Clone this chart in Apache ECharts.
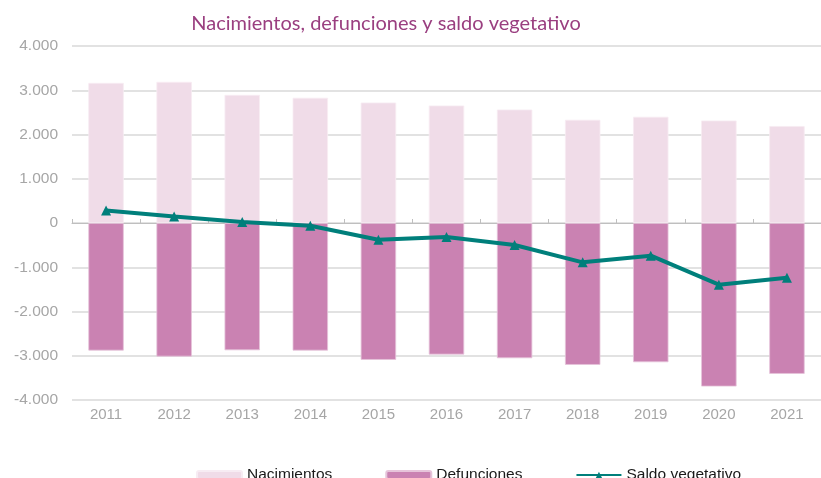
<!DOCTYPE html>
<html><head><meta charset="utf-8">
<script src="https://cdn.jsdelivr.net/npm/echarts@6/dist/echarts.min.js"></script>
<style>html,body{margin:0;padding:0;background:#fff}#c{width:821px;height:478px}</style>
</head><body><div id="c"></div>
<script>
const categories = ['2011','2012','2013','2014','2015','2016','2017','2018','2019','2020','2021'];
const nacimientos = [3167, 3190, 2896, 2829, 2722, 2655, 2564, 2332, 2400, 2316, 2190];
const defunciones = [-2883, -3018, -2876, -2883, -3093, -2973, -3056, -3206, -3146, -3695, -3409];
const saldo = [284, 149, 23, -61, -377, -316, -497, -889, -738, -1393, -1235];
const yTicks = [-4000, 4000, 1000];

const chart = echarts.init(document.getElementById('c'));
chart.setOption({
  animation: false,
  title: {
    text: 'Nacimientos, defunciones y saldo vegetativo',
    left: 381, top: 9, textAlign: 'center',
    textStyle: {color: '#9a3f80', fontFamily: 'Lato', fontWeight: 'normal', fontSize: 20}
  },
  legend: {
    left: 191, top: 462, itemWidth: 45, itemHeight: 8, itemGap: 53,
    textStyle: {color: '#1a1a1a', fontFamily: 'Liberation Sans', fontSize: 15.5},
    data: ['Nacimientos', 'Defunciones', 'Saldo vegetativo']
  },
  grid: {left: 72, right: -6, top: 46, bottom: 78},
  xAxis: [{
    type: 'category', data: categories, position: 'bottom',
    axisLine: {show: false, onZero: false}, axisTick: {show: false},
    axisLabel: {color: '#a6a6a6', fontFamily: 'Liberation Sans', fontSize: 15, margin: 7}
  }, {
    type: 'category', data: categories, position: 'bottom',
    axisLine: {show: true, onZero: true, lineStyle: {color: '#bfbfbf', width: 1}},
    axisTick: {show: true, inside: true, length: 4, lineStyle: {color: '#bfbfbf'}},
    axisLabel: {show: false}
  }],
  yAxis: {
    type: 'value', min: yTicks[0], max: yTicks[1], interval: yTicks[2],
    axisLine: {show: false}, axisTick: {show: false},
    splitLine: {lineStyle: {color: '#d9d9d9', width: 1.5}},
    axisLabel: {color: '#a6a6a6', fontFamily: 'Liberation Sans', fontSize: 15.5, margin: 14,
      formatter: v => (v < 0 ? '-' : '') + Math.abs(v).toString().replace(/\B(?=(\d{3})+(?!\d))/g, '.')}
  },
  series: [
    {name: 'Nacimientos', type: 'bar', stack: 'a', data: nacimientos, barWidth: '52%',
      itemStyle: {color: '#f0dce8', borderColor: '#f7ecf3', borderWidth: 0.8}},
    {name: 'Defunciones', type: 'bar', stack: 'a', data: defunciones, barWidth: '52%',
      itemStyle: {color: '#ca82b2', borderColor: '#e6c4da', borderWidth: 0.8}},
    {name: 'Saldo vegetativo', type: 'line', data: saldo, z: 5,
      symbol: 'triangle', symbolSize: 10,
      lineStyle: {color: '#007f7b', width: 4},
      itemStyle: {color: '#007f7b'}}
  ]
});
</script></body></html>
